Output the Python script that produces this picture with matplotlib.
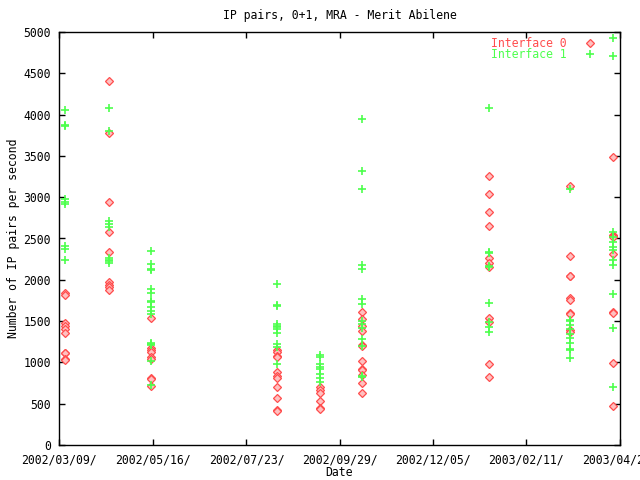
import numpy as np
import pandas as pd
import matplotlib
matplotlib.use("Agg")
import matplotlib.pyplot as plt
from matplotlib.lines import Line2D

# %%
# sample dates (one per measurement run) and values read off the chart

cluster_dates = ["2002-03-13", "2002-04-14", "2002-05-15", "2002-08-14", "2002-09-14",
                 "2002-10-15", "2003-01-15", "2003-03-15", "2003-04-15"]

if0_values = [
    [1837, 1816, 1473, 1441, 1404, 1360, 1117, 1110, 1037, 1030],
    [4403, 3774, 2938, 2583, 2333, 1970, 1937, 1909, 1877],
    [1534, 1171, 1150, 1130, 1069, 1040, 807, 800, 718],
    [1150, 1120, 1080, 1060, 880, 840, 810, 700, 570, 420, 410],
    [706, 666, 633, 529, 450, 440],
    [1606, 1521, 1441, 1380, 1211, 1200, 1017, 920, 910, 848, 747, 626],
    [3257, 3035, 2817, 2647, 2260, 2207, 2151, 1534, 1493, 977, 820],
    [3136, 2292, 2050, 2040, 1776, 1755, 1602, 1590, 1392, 1372],
    [3483, 2543, 2530, 2513, 2309, 1614, 1600, 989, 470],
]

if1_values = [
    [4052, 3874, 3860, 2974, 2946, 2914, 2409, 2373, 2240],
    [4076, 3801, 2716, 2676, 2643, 2260, 2240, 2230, 2200],
    [2345, 2191, 2127, 2115, 1885, 1836, 1743, 1730, 1675, 1626, 1586, 1239, 1225, 1211, 1021, 722],
    [1949, 1695, 1685, 1465, 1440, 1425, 1401, 1352, 1223, 1190, 977],
    [1090, 1062, 981, 941, 916, 860, 807, 767],
    [3943, 3314, 3095, 2179, 2131, 1768, 1703, 1501, 1465, 1413, 1279, 1199, 835, 820],
    [4080, 2333, 2320, 2167, 2155, 1715, 1493, 1432, 1372],
    [3095, 1513, 1500, 1453, 1400, 1344, 1292, 1231, 1162, 1150, 1053],
    [4931, 4713, 2583, 2522, 2454, 2401, 2361, 2240, 2179, 1828, 1413, 706],
]

tick_dates = ["2002-03-09", "2002-05-16", "2002-07-23", "2002-09-29",
              "2002-12-05", "2003-02-11", "2003-04-20"]
tick_labels = ["2002/03/09/", "2002/05/16/", "2002/07/23/", "2002/09/29/",
               "2002/12/05/", "2003/02/11/", "2003/04/20/"]

# %%

def expand(values):
    xs, ys = [], []
    for d, vals in zip(cluster_dates, values):
        xs += [pd.Timestamp(d)] * len(vals)
        ys += vals
    return xs, ys

RED = '#ff4d4d'
GREEN = '#4dff4d'
FONT = 'DejaVu Sans Mono'
FS = 8.3

diamond = dict(linestyle='none', marker='D', markersize=3.6,
               markerfacecolor='#ffc0c0', markeredgecolor=RED, markeredgewidth=0.9)
cross = dict(linestyle='none', marker='+', markersize=6, color=GREEN, markeredgewidth=1.2)

fig = plt.figure(figsize=(6.4, 4.8), dpi=100)
ax = fig.add_axes([59/640, 1 - 445/480, 561/640, 413/480])

x0, y0 = expand(if0_values)
x1, y1 = expand(if1_values)
ax.plot(x0, y0, **diamond)
ax.plot(x1, y1, **cross)

ticks = [pd.Timestamp(t) for t in tick_dates]
ax.set_xlim(ticks[0], ticks[-1])
ax.set_xticks(ticks)
ax.set_xticklabels(tick_labels, fontfamily=FONT, fontsize=FS)
ax.set_ylim(0, 5000)
ax.set_yticks(np.arange(0, 5001, 500))
ax.set_yticklabels([str(v) for v in range(0, 5001, 500)], fontfamily=FONT, fontsize=FS)
ax.tick_params(direction='in', top=True, right=True, length=4.5, width=1, pad=6)

for s in ax.spines.values():
    s.set_linewidth(1)

ax.set_title("IP pairs, 0+1, MRA - Merit Abilene", fontfamily=FONT, fontsize=FS, pad=9)
ax.set_xlabel("Date", fontfamily=FONT, fontsize=FS, labelpad=0)
ax.set_ylabel("Number of IP pairs per second", fontfamily=FONT, fontsize=FS, labelpad=2)

handles = [Line2D([], [], **diamond), Line2D([], [], **cross)]
leg = ax.legend(handles, ["Interface 0", "Interface 1"], loc='upper right',
                bbox_to_anchor=(0.98, 1.014), frameon=False, markerfirst=False,
                handlelength=1.5, handletextpad=1.3, labelspacing=-0.1,
                prop={'family': FONT, 'size': FS})
for txt, c in zip(leg.get_texts(), [RED, GREEN]):
    txt.set_color(c)

plt.savefig("out.png", dpi=100)
